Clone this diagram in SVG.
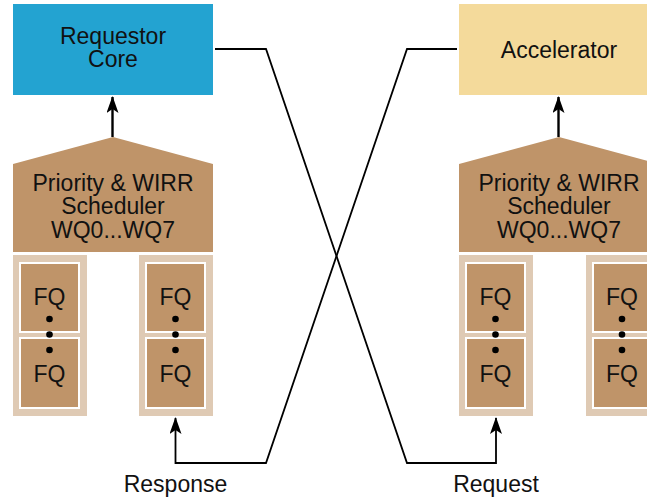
<svg xmlns="http://www.w3.org/2000/svg" width="647" height="501" viewBox="0 0 647 501">
<defs>
<style>
text{font-family:"Liberation Sans",Arial,sans-serif;font-size:23px;fill:#111;text-anchor:middle}
.sched{fill:#bf9469}
.col{fill:#dfcab4}
.fq{fill:#bf9469;stroke:#fff;stroke-width:2}
.dot{fill:#000}
.wire{fill:none;stroke:#000;stroke-width:1.8;stroke-linejoin:miter}
.arr{fill:none;stroke:#000;stroke-width:2.4}
</style>
<marker id="ah" viewBox="0 0 17 12" refX="16" refY="6" markerWidth="17" markerHeight="12" markerUnits="userSpaceOnUse" orient="auto">
<path d="M0,0 L17,6 L0,12 L4,6 Z" fill="#000"/>
</marker>
</defs>
<rect width="647" height="501" fill="#fff"/>

<g id="requestor-core">
<rect x="13" y="4" width="200" height="91" fill="#23a3d1"/>
<text x="113" y="44">Requestor</text>
<text x="113" y="67">Core</text>
</g>

<g id="accelerator">
<rect x="459" y="4" width="200" height="91" fill="#f4da9b"/>
<text x="559" y="58">Accelerator</text>
</g>

<g id="scheduler-left">
<polygon class="sched" points="13,164 113,137 213,164 213,252 13,252"/>
<text x="113" y="191">Priority &amp; WIRR</text>
<text x="113" y="214">Scheduler</text>
<text x="113" y="238">WQ0...WQ7</text>
</g>

<g id="scheduler-right">
<polygon class="sched" points="459,164 559,137 659,164 659,252 459,252"/>
<text x="559" y="191">Priority &amp; WIRR</text>
<text x="559" y="214">Scheduler</text>
<text x="559" y="238">WQ0...WQ7</text>
</g>

<g id="fq-left-1">
<rect class="col" x="13" y="255" width="74" height="161"/>
<rect class="fq" x="20" y="263" width="59" height="69"/>
<rect class="fq" x="20" y="338" width="59" height="70"/>
<text x="49.5" y="305">FQ</text>
<text x="49.5" y="382">FQ</text>
<circle class="dot" cx="49.5" cy="319" r="3.3"/>
<circle class="dot" cx="49.5" cy="334.5" r="3.3"/>
<circle class="dot" cx="49.5" cy="350" r="3.3"/>
</g>

<g id="fq-left-2">
<rect class="col" x="139" y="255" width="74" height="161"/>
<rect class="fq" x="146" y="263" width="59" height="69"/>
<rect class="fq" x="146" y="338" width="59" height="70"/>
<text x="175.5" y="305">FQ</text>
<text x="175.5" y="382">FQ</text>
<circle class="dot" cx="175.5" cy="319" r="3.3"/>
<circle class="dot" cx="175.5" cy="334.5" r="3.3"/>
<circle class="dot" cx="175.5" cy="350" r="3.3"/>
</g>

<g id="fq-right-1">
<rect class="col" x="459" y="255" width="74" height="161"/>
<rect class="fq" x="466" y="263" width="59" height="69"/>
<rect class="fq" x="466" y="338" width="59" height="70"/>
<text x="495.5" y="305">FQ</text>
<text x="495.5" y="382">FQ</text>
<circle class="dot" cx="495.5" cy="319" r="3.3"/>
<circle class="dot" cx="495.5" cy="334.5" r="3.3"/>
<circle class="dot" cx="495.5" cy="350" r="3.3"/>
</g>

<g id="fq-right-2">
<rect class="col" x="586" y="255" width="74" height="161"/>
<rect class="fq" x="593" y="263" width="59" height="69"/>
<rect class="fq" x="593" y="338" width="59" height="70"/>
<text x="622" y="305">FQ</text>
<text x="622" y="382">FQ</text>
<circle class="dot" cx="622" cy="319" r="3.3"/>
<circle class="dot" cx="622" cy="334.5" r="3.3"/>
<circle class="dot" cx="622" cy="350" r="3.3"/>
</g>

<g id="connectors">
<line class="arr" x1="112.5" y1="137" x2="112.5" y2="97" marker-end="url(#ah)"/>
<line class="arr" x1="558.5" y1="137" x2="558.5" y2="97" marker-end="url(#ah)"/>
<polyline class="wire" points="215,49 266,49 407,463 496,463 496,418" marker-end="url(#ah)"/>
<polyline class="wire" points="457,49 407,49 266,463 175.5,463 175.5,418" marker-end="url(#ah)"/>
</g>

<g id="labels">
<text x="175.5" y="492">Response</text>
<text x="496" y="492">Request</text>
</g>
</svg>
